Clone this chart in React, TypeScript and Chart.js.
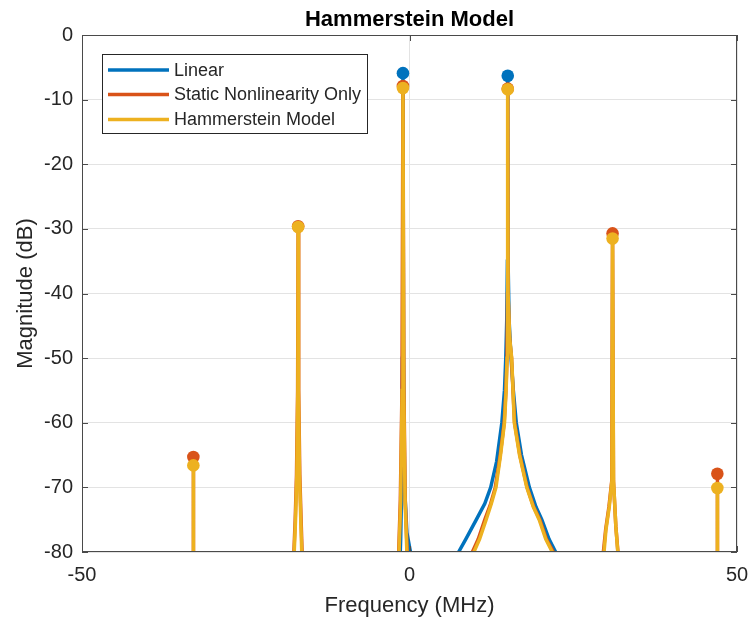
import React, { useEffect, useRef } from "react";
import { Chart, registerables } from "chart.js";

Chart.register(...registerables);

// ---------- text ----------
const chartTitle = "Hammerstein Model";
const xAxisLabel = "Frequency (MHz)";
const yAxisLabel = "Magnitude (dB)";
const seriesNames = ["Linear", "Static Nonlinearity Only", "Hammerstein Model"];
const seriesColors = ["#0072BD", "#D95319", "#EDB120"];

// ---------- axes ----------
const xMin = -50;
const xMax = 50;
const xStep = 50;
const yMin = -80;
const yMax = 0;
const yStep = 10;
const xTickValues = [-50, 0, 50];
const yTickValues = [0, -10, -20, -30, -40, -50, -60, -70, -80];

// ---------- Linear (blue) spectrum ----------
const linearFreq = [
  -1.5, -1.35, -1.2, -1.08, -1.0, -0.92, -0.75, -0.4, 0.15, 0.3,
  null,
  7.0, 7.5, 8.6, 10.2, 11.5, 12.4, 13.3, 14.1, 14.5, 14.7, 14.85, 14.95, 15.0,
  15.05, 15.2, 15.5, 15.85, 16.3, 17.1, 18.3, 19.3, 20.2, 21.3, 22.3, 22.6,
];
const linearMag = [
  -83, -78, -70, -50, -5.9, -50, -70, -77, -80, -81,
  null,
  -83, -80, -78, -75, -72.5, -70, -66, -60, -55, -50, -44, -35, -6.3,
  -35, -44, -50, -55, -60, -65, -70, -73, -75, -78, -80, -81,
];

// ---------- Static Nonlinearity Only (orange) spectrum ----------
const staticFreq = [
  -33.03, -33.0, -32.97,
  null,
  -17.8, -17.65, -17.45, -17.25, -17.08, -17.0, -16.92, -16.75, -16.55, -16.4, -16.3,
  null,
  -1.75, -1.65, -1.4, -1.15, -1.0, -0.85, -0.65, -0.35, -0.25,
  null,
  9.3, 9.6, 10.5, 11.5, 12.4, 13.1, 13.85, 14.45, 14.72, 14.88, 14.97, 15.0,
  15.04, 15.28, 15.58, 15.8, 16.05, 16.85, 17.95, 18.95, 19.9, 20.9, 21.95, 22.2,
  null,
  29.4, 29.6, 29.95, 30.45, 30.88, 31.0, 31.14, 31.5, 31.82, 31.95,
  null,
  46.97, 47.0, 47.03,
];
const staticMag = [
  -95, -65.3, -95,
  null,
  -82, -80, -75, -68, -55, -29.6, -55, -68, -75, -80, -82,
  null,
  -82, -80, -72, -55, -7.9, -55, -72, -80, -82,
  null,
  -82, -80, -78, -75, -72.5, -70, -65, -60, -55, -50, -40, -8.3,
  -40, -47, -50, -55, -60, -65, -70, -73, -75, -78, -80, -81,
  null,
  -82, -80, -76.5, -73, -69, -30.7, -69, -76, -80, -82,
  null,
  -95, -67.9, -95,
];

// ---------- Hammerstein Model (yellow) spectrum ----------
const hammFreq = [
  -33.03, -33.0, -32.97,
  null,
  -17.75, -17.6, -17.4, -17.2, -17.05, -17.0, -16.95, -16.8, -16.6, -16.45, -16.35,
  null,
  -1.7, -1.6, -1.35, -1.12, -1.0, -0.88, -0.68, -0.4, -0.3,
  null,
  9.5, 9.83, 10.7, 11.7, 12.5, 13.2, 13.9, 14.5, 14.75, 14.9, 14.97, 15.0,
  15.05, 15.3, 15.6, 15.8, 16.0, 16.8, 17.9, 18.9, 19.8, 20.8, 21.8, 22.1,
  null,
  29.5, 29.7, 30.0, 30.5, 30.9, 31.0, 31.15, 31.5, 31.8, 31.9,
  null,
  46.97, 47.0, 47.03,
];
const hammMag = [
  -95, -66.6, -95,
  null,
  -82, -80, -75, -68, -55, -29.7, -55, -68, -75, -80, -82,
  null,
  -82, -80, -72, -55, -8.2, -55, -72, -80, -82,
  null,
  -82, -80, -78, -75, -72.5, -70, -65, -60, -55, -50, -40, -8.4,
  -40, -47, -50, -55, -60, -65, -70, -73, -75, -78, -80, -81,
  null,
  -82, -80, -76.5, -73, -69, -31.5, -69, -76, -80, -82,
  null,
  -95, -70.1, -95,
];

// ---------- peak markers ----------
const linearPeakFreq = [-1, 15];
const linearPeakMag = [-5.9, -6.3];
const staticPeakFreq = [-33, -17, -1, 15, 31, 47];
const staticPeakMag = [-65.3, -29.6, -7.9, -8.3, -30.7, -67.9];
const hammPeakFreq = [-33, -17, -1, 15, 31, 47];
const hammPeakMag = [-66.6, -29.7, -8.2, -8.4, -31.5, -70.1];

const FONT = '"Liberation Sans", Arial, Helvetica, sans-serif';
const TEXT = "#262626";
const AXIS = "#4a4a4a";

function zip(xs: (number | null)[], ys: (number | null)[]) {
  return xs.map((x, i) => ({ x: x as any, y: ys[i] as any }));
}

const decorPlugin = {
  id: "decor",
  afterDraw(chart: any) {
    const { ctx, chartArea: a, scales } = chart;
    ctx.save();
    // box
    ctx.strokeStyle = AXIS;
    ctx.lineWidth = 1;
    ctx.strokeRect(a.left + 0.5, a.top + 0.5, a.right - a.left - 1, a.bottom - a.top - 1);
    // inward ticks
    ctx.beginPath();
    const tl = 6;
    yTickValues.forEach((v) => {
      const p = Math.round(scales.y.getPixelForValue(v)) + 0.5;
      ctx.moveTo(a.left, p);
      ctx.lineTo(a.left + tl, p);
      ctx.moveTo(a.right, p);
      ctx.lineTo(a.right - tl, p);
    });
    xTickValues.forEach((v) => {
      const p = Math.round(scales.x.getPixelForValue(v)) + 0.5;
      ctx.moveTo(p, a.bottom);
      ctx.lineTo(p, a.bottom - tl);
      ctx.moveTo(p, a.top);
      ctx.lineTo(p, a.top + tl);
    });
    ctx.stroke();

    // legend
    const lx = 102.5, ly = 54.5, lw = 265, lh = 79;
    ctx.fillStyle = "#ffffff";
    ctx.fillRect(lx, ly, lw, lh);
    ctx.strokeStyle = TEXT;
    ctx.lineWidth = 1;
    ctx.strokeRect(lx, ly, lw, lh);
    const rows = [70, 94.5, 119.5];
    ctx.font = `18px ${FONT}`;
    ctx.textBaseline = "middle";
    ctx.textAlign = "left";
    seriesNames.forEach((name, i) => {
      ctx.strokeStyle = seriesColors[i];
      ctx.lineWidth = 3.5;
      ctx.beginPath();
      ctx.moveTo(108, rows[i]);
      ctx.lineTo(169, rows[i]);
      ctx.stroke();
      ctx.fillStyle = TEXT;
      ctx.fillText(name, 174, rows[i] + 1);
    });

    // title
    const cx = (a.left + a.right) / 2;
    ctx.fillStyle = "#000000";
    ctx.font = `bold 22px ${FONT}`;
    ctx.textAlign = "center";
    ctx.textBaseline = "alphabetic";
    ctx.fillText(chartTitle, cx, 26);

    // x axis label
    ctx.fillStyle = TEXT;
    ctx.font = `22px ${FONT}`;
    ctx.fillText(xAxisLabel, cx, 612);

    // y axis label
    ctx.save();
    ctx.translate(32, (a.top + a.bottom) / 2);
    ctx.rotate(-Math.PI / 2);
    ctx.fillText(yAxisLabel, 0, 0);
    ctx.restore();

    ctx.restore();
  },
};

export default function App() {
  const ref = useRef<HTMLCanvasElement | null>(null);

  useEffect(() => {
    if (!ref.current) return;
    const chart = new Chart(ref.current, {
      type: "scatter",
      data: {
        datasets: [
          {
            type: "scatter",
            label: "Hammerstein peaks",
            data: zip(hammPeakFreq, hammPeakMag),
            backgroundColor: seriesColors[2],
            borderColor: seriesColors[2],
            pointRadius: 6.3,
            borderWidth: 0,
            order: 0,
          } as any,
          {
            type: "scatter",
            label: "Static peaks",
            data: zip(staticPeakFreq, staticPeakMag),
            backgroundColor: seriesColors[1],
            borderColor: seriesColors[1],
            pointRadius: 6.3,
            borderWidth: 0,
            order: 1,
          },
          {
            type: "scatter",
            label: "Linear peaks",
            data: zip(linearPeakFreq, linearPeakMag),
            backgroundColor: seriesColors[0],
            borderColor: seriesColors[0],
            pointRadius: 6.3,
            borderWidth: 0,
            order: 2,
          },
          {
            type: "line",
            label: seriesNames[2],
            data: zip(hammFreq, hammMag),
            borderColor: seriesColors[2],
            backgroundColor: seriesColors[2],
            borderWidth: 3.5,
            pointRadius: 0,
            tension: 0,
            fill: false,
            spanGaps: false,
            order: 3,
          },
          {
            type: "line",
            label: seriesNames[1],
            data: zip(staticFreq, staticMag),
            borderColor: seriesColors[1],
            backgroundColor: seriesColors[1],
            borderWidth: 3.5,
            pointRadius: 0,
            tension: 0,
            fill: false,
            spanGaps: false,
            order: 4,
          },
          {
            type: "line",
            label: seriesNames[0],
            data: zip(linearFreq, linearMag),
            borderColor: seriesColors[0],
            backgroundColor: seriesColors[0],
            borderWidth: 3.5,
            pointRadius: 0,
            tension: 0,
            fill: false,
            spanGaps: false,
            order: 5,
          },
        ] as any,
      },
      options: {
        animation: false,
        responsive: false,
        devicePixelRatio: 1,
        layout: { padding: { left: 0, right: 14, top: 35, bottom: 0 } },
        plugins: {
          legend: { display: false },
          tooltip: { enabled: false },
          title: { display: false },
        },
        scales: {
          x: {
            type: "linear",
            min: xMin,
            max: xMax,
            afterFit: (s: any) => {
              s.height = 69;
              s.paddingLeft = 0;
              s.paddingRight = 0;
            },
            afterBuildTicks: (s: any) => {
              s.ticks = xTickValues.map((v) => ({ value: v }));
            },
            ticks: {
              stepSize: xStep,
              color: TEXT,
              padding: 11,
              maxRotation: 0,
              font: { family: FONT, size: 20 },
            },
            grid: { color: "#e3e3e3", lineWidth: 1, drawTicks: false },
            border: { display: false },
          },
          y: {
            type: "linear",
            min: yMin,
            max: yMax,
            afterFit: (s: any) => {
              s.width = 82;
              s.paddingTop = 0;
              s.paddingBottom = 0;
            },
            afterBuildTicks: (s: any) => {
              s.ticks = yTickValues.map((v) => ({ value: v }));
            },
            ticks: {
              stepSize: yStep,
              color: TEXT,
              padding: 9,
              font: { family: FONT, size: 20 },
            },
            grid: { color: "#e3e3e3", lineWidth: 1, drawTicks: false },
            border: { display: false },
          },
        },
      } as any,
      plugins: [decorPlugin],
    });
    return () => chart.destroy();
  }, []);

  return (
    <div style={{ position: "fixed", left: 0, top: 0, width: 751, height: 621, background: "#fff" }}>
      <canvas ref={ref} width={751} height={621} style={{ display: "block" }} />
    </div>
  );
}
